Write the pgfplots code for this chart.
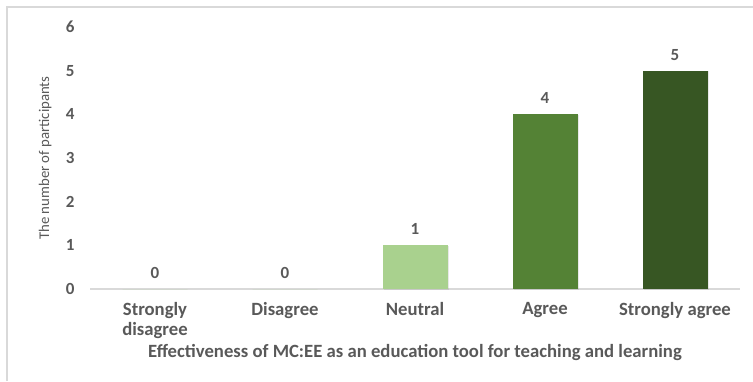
\documentclass[border=0pt]{standalone}
\usepackage{pgfplots}
\pgfplotsset{compat=1.18}
\usepackage{fontspec}
\setmainfont{Carlito}
\usetikzlibrary{shadows}
\definecolor{txtgray}{HTML}{595959}
\definecolor{axgray}{HTML}{D9D9D9}
\definecolor{framegray}{HTML}{D9D9D9}
\definecolor{neutralc}{HTML}{A9D18E}
\definecolor{agreec}{HTML}{548235}
\definecolor{sagreec}{HTML}{375623}
\begin{document}
\begin{tikzpicture}
  \path[use as bounding box] (0pt,0pt) rectangle (753pt,-381pt);
  % chart frame (top and left edges)
  \draw[framegray, line width=1.2pt] (7pt,-381pt) -- (7pt,-7pt) -- (753pt,-7pt);
  \begin{axis}[
    at={(90pt,-289pt)}, anchor=south west,
    scale only axis, width=650pt, height=262pt,
    xmin=-0.5, xmax=4.5, ymin=0, ymax=6,
    axis line style={draw=none},
    major tick length=0pt,
    ytick={0,...,6},
    xtick={0,...,4},
    xticklabels={{Strongly\\disagree},Disagree,Neutral,Agree,{Strongly agree}},
    /pgf/number format/assume math mode=true,
    tick label style={font=\fontsize{17}{19}\selectfont\bfseries, text=txtgray},
    xticklabel style={font=\fontsize{18.7}{20}\selectfont\bfseries, align=center, anchor=north, yshift=-10pt},
    yticklabel style={anchor=east, xshift=-12pt},
    xlabel={Effectiveness of MC:EE as an education tool for teaching and learning},
    xlabel style={font=\fontsize{18.7}{20}\selectfont\bfseries, text=txtgray, at={(axis description cs:0.5,-0.244)}, anchor=center},
    ylabel={The number of participants},
    ylabel style={font=\fontsize{14.8}{17}\selectfont, text=txtgray, at={(axis description cs:-0.069,0.5)}, anchor=center},
    ybar, bar width=0.5, bar shift=0pt,
    nodes near coords,
    every node near coord/.append style={font=\fontsize{17}{19}\selectfont\bfseries, text=txtgray, yshift=7pt},
    clip=false,
    every axis plot/.append style={draw=none},
  ]
    \draw[axgray, line width=1.2pt] (axis cs:-0.5,0) -- (axis cs:4.5,0);
    \addplot[fill=neutralc] coordinates {(0,0)};
    \addplot[fill=neutralc] coordinates {(1,0)};
    \addplot[fill=neutralc, drop shadow={opacity=0.18, shadow xshift=1.5pt, shadow yshift=-0.5pt}] coordinates {(2,1)};
    \addplot[fill=agreec, drop shadow={opacity=0.18, shadow xshift=1.5pt, shadow yshift=-0.5pt}] coordinates {(3,4)};
    \addplot[fill=sagreec, drop shadow={opacity=0.18, shadow xshift=1.5pt, shadow yshift=-0.5pt}] coordinates {(4,5)};
  \end{axis}
\end{tikzpicture}
\end{document}
